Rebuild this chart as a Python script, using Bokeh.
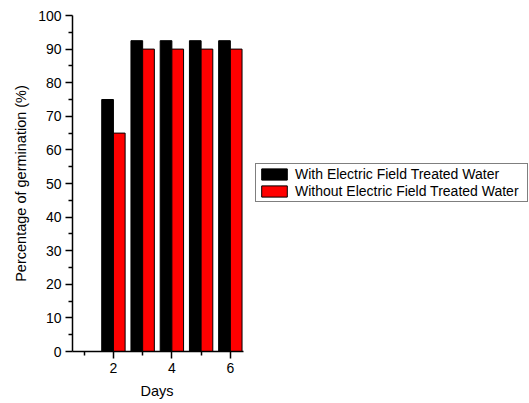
from bokeh.plotting import figure
from bokeh.models import ColumnDataSource, Range1d, FixedTicker, Legend, LegendItem, Title
from bokeh.transform import dodge
from bokeh.embed import file_html
from bokeh.resources import INLINE

days = [2, 3, 4, 5, 6]
with_field = [75, 92.5, 92.5, 92.5, 92.5]
without_field = [65, 90, 90, 90, 90]
series_labels = ["With Electric Field Treated Water", "Without Electric Field Treated Water"]
x_major = [2, 4, 6]
x_minor = [1, 3, 5]
x_title = "Days"
y_title = "Percentage of germination (%)"

src = ColumnDataSource(dict(days=days, w=with_field, wo=without_field))

# visible axis span (data units) and its pixel width; frame extended to the right for the legend
x_lo, x_hi = 0.6, 6.45
axis_px = 171
frame_px = 529 - 72 - 1
x_end = x_lo + frame_px * (x_hi - x_lo) / axis_px

p = figure(width=529, height=403, output_backend="svg", toolbar_location=None,
           x_range=Range1d(x_lo, x_end), y_range=Range1d(0, 100),
           min_border_left=72, min_border_top=15, min_border_bottom=52, min_border_right=1)
p.outline_line_color = None
p.grid.grid_line_color = None

r1 = p.vbar(x=dodge("days", -0.2, range=p.x_range), top="w", width=0.4, bottom=0,
            source=src, fill_color="black", line_color="black", line_width=1)
r2 = p.vbar(x=dodge("days", 0.2, range=p.x_range), top="wo", width=0.4, bottom=0,
            source=src, fill_color="#ff0000", line_color="black", line_width=1)

p.xaxis.ticker = FixedTicker(ticks=x_major, minor_ticks=x_minor)
p.yaxis.ticker = FixedTicker(ticks=list(range(0, 101, 10)), minor_ticks=list(range(5, 100, 10)))
p.xaxis.bounds = (x_lo, x_hi)

for ax in (p.xaxis[0], p.yaxis[0]):
    ax.axis_line_width = 1.5
    ax.major_tick_line_width = 1.5
    ax.minor_tick_line_width = 1.5
    ax.major_tick_in = 0
    ax.major_tick_out = 7
    ax.minor_tick_in = 0
    ax.minor_tick_out = 4
    ax.major_label_text_font = "Liberation Sans"
    ax.major_label_text_font_size = "14px"
    ax.major_label_text_color = "black"
    ax.axis_label_text_font = "Liberation Sans"
    ax.axis_label_text_font_size = "14.5px"
    ax.axis_label_text_font_style = "normal"
    ax.axis_label_text_color = "black"

p.yaxis.axis_label = y_title
p.yaxis.axis_label_standoff = 6
p.yaxis.major_label_standoff = 4
p.xaxis.major_label_standoff = 4

xt = Title(text=x_title, align="left", offset=68, standoff=10,
           text_font="Liberation Sans", text_font_size="14.5px",
           text_font_style="normal", text_color="black")
p.add_layout(xt, "below")

legend = Legend(items=[LegendItem(label=series_labels[0], renderers=[r1]),
                       LegendItem(label=series_labels[1], renderers=[r2])],
                location=(183, 149))
legend.border_line_color = "black"
legend.border_line_width = 1
legend.background_fill_alpha = 1
legend.padding = 2
legend.margin = 0
legend.spacing = 1
legend.glyph_width = 32
legend.glyph_height = 14
legend.label_height = 14
legend.label_width = 230
legend.label_standoff = 5
legend.label_text_font = "Liberation Sans"
legend.label_text_font_size = "14px"
legend.label_text_color = "black"
p.add_layout(legend, "center")

open("out.html", "w").write(file_html(p, INLINE))
